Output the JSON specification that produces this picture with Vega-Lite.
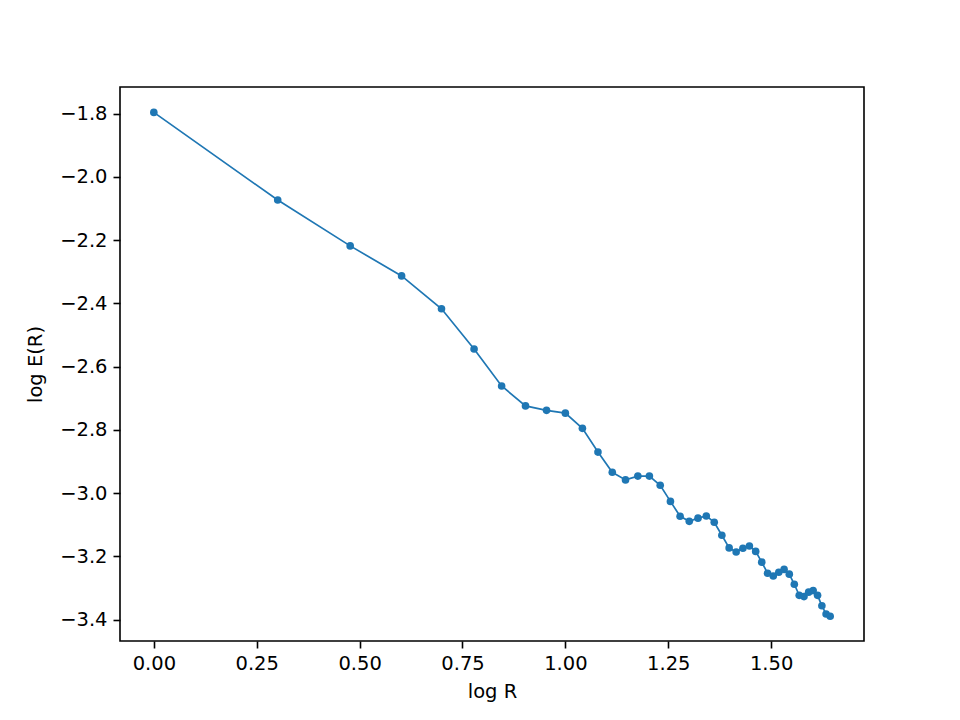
{
  "$schema": "https://vega.github.io/schema/vega-lite/v6.json",
  "width": 744,
  "height": 554,
  "autosize": {"type": "none"},
  "padding": {"left": 120, "top": 87, "right": 96, "bottom": 79},
  "background": "white",
  "config": {
    "view": {"stroke": "black", "strokeWidth": 1.6},
    "axis": {
      "grid": false,
      "domain": false,
      "tickColor": "black",
      "tickWidth": 1.6,
      "tickSize": 7,
      "labelPadding": 6,
      "labelFont": "DejaVu Sans",
      "labelFontSize": 19.5,
      "labelColor": "black",
      "titleFont": "DejaVu Sans",
      "titleFontSize": 19.5,
      "titleFontWeight": "normal",
      "titleColor": "black"
    }
  },
  "data": {
    "values": [
      {"logR": 0.0, "logE": -1.796},
      {"logR": 0.30103, "logE": -2.073},
      {"logR": 0.47712, "logE": -2.218},
      {"logR": 0.60206, "logE": -2.313},
      {"logR": 0.69897, "logE": -2.417},
      {"logR": 0.77815, "logE": -2.544},
      {"logR": 0.84510, "logE": -2.661},
      {"logR": 0.90309, "logE": -2.724},
      {"logR": 0.95424, "logE": -2.738},
      {"logR": 1.0, "logE": -2.747},
      {"logR": 1.04139, "logE": -2.795},
      {"logR": 1.07918, "logE": -2.870},
      {"logR": 1.11394, "logE": -2.934},
      {"logR": 1.14613, "logE": -2.958},
      {"logR": 1.17609, "logE": -2.946},
      {"logR": 1.20412, "logE": -2.946},
      {"logR": 1.23045, "logE": -2.975},
      {"logR": 1.25527, "logE": -3.026},
      {"logR": 1.27875, "logE": -3.073},
      {"logR": 1.30103, "logE": -3.089},
      {"logR": 1.32222, "logE": -3.079},
      {"logR": 1.34242, "logE": -3.072},
      {"logR": 1.36173, "logE": -3.092},
      {"logR": 1.38021, "logE": -3.133},
      {"logR": 1.39794, "logE": -3.173},
      {"logR": 1.41497, "logE": -3.186},
      {"logR": 1.43136, "logE": -3.174},
      {"logR": 1.44716, "logE": -3.167},
      {"logR": 1.46240, "logE": -3.184},
      {"logR": 1.47712, "logE": -3.218},
      {"logR": 1.49136, "logE": -3.253},
      {"logR": 1.50515, "logE": -3.262},
      {"logR": 1.51851, "logE": -3.250},
      {"logR": 1.53148, "logE": -3.241},
      {"logR": 1.54407, "logE": -3.256},
      {"logR": 1.55630, "logE": -3.288},
      {"logR": 1.56820, "logE": -3.323},
      {"logR": 1.57978, "logE": -3.327},
      {"logR": 1.59106, "logE": -3.313},
      {"logR": 1.60206, "logE": -3.308},
      {"logR": 1.61278, "logE": -3.323},
      {"logR": 1.62325, "logE": -3.356},
      {"logR": 1.63347, "logE": -3.382},
      {"logR": 1.64345, "logE": -3.389}
    ]
  },
  "encoding": {
    "x": {
      "field": "logR",
      "type": "quantitative",
      "title": "log R",
      "scale": {"domain": [-0.0822, 1.7256], "nice": false, "zero": false},
      "axis": {"values": [0, 0.25, 0.5, 0.75, 1.0, 1.25, 1.5], "format": ".2f", "titlePadding": 10}
    },
    "y": {
      "field": "logE",
      "type": "quantitative",
      "title": "log E(R)",
      "scale": {"domain": [-3.4674, -1.7156], "nice": false, "zero": false},
      "axis": {
        "values": [-3.4, -3.2, -3.0, -2.8, -2.6, -2.4, -2.2, -2.0, -1.8],
        "format": ".1f",
        "labelExpr": "replace(datum.label, '-', '−')",
        "titlePadding": 14
      }
    }
  },
  "layer": [
    {"mark": {"type": "line", "color": "#1f77b4", "strokeWidth": 1.7}},
    {"mark": {"type": "point", "filled": true, "opacity": 1, "color": "#1f77b4", "size": 58}}
  ]
}
